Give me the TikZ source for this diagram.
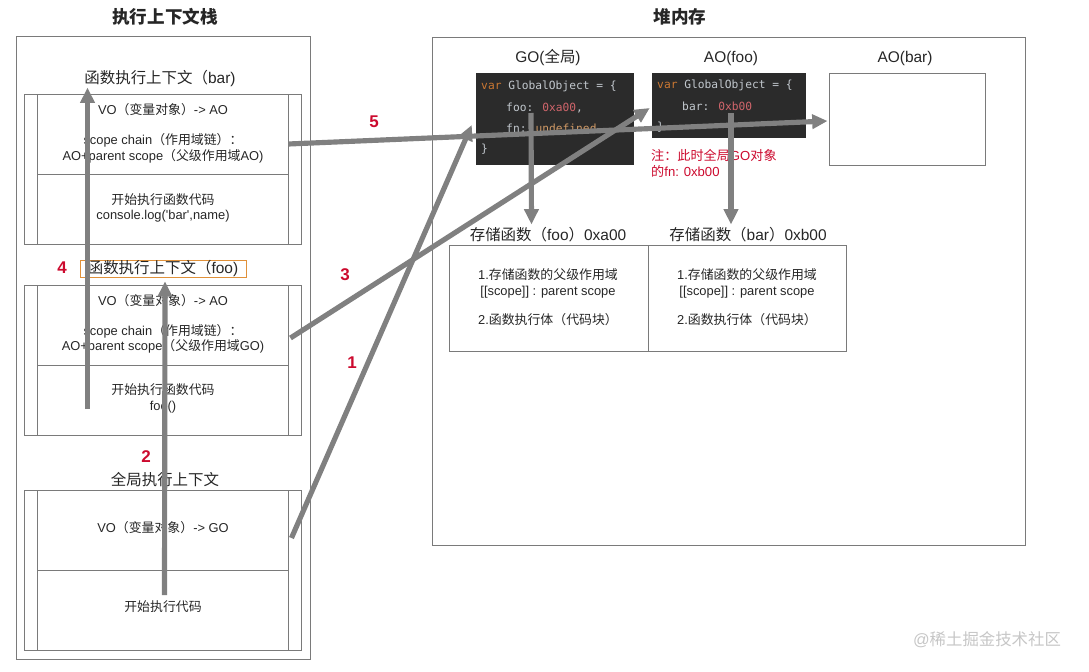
\documentclass[tikz,border=0pt]{standalone}
\usepackage{fontspec}
\setmainfont{Liberation Sans}[Ligatures=TeXOff]
\newfontfamily\cjkfont{Noto Sans CJK SC}
\newfontfamily\codefont{DejaVu Sans Mono}
\newcommand{\zh}[1]{{\cjkfont #1}}
\usepackage{tikz}
\usetikzlibrary{arrows.meta,fit,calc}
\definecolor{boxgray}{HTML}{7A7A7A}
\definecolor{arrgray}{HTML}{808080}
\definecolor{stepred}{HTML}{CC0A2E}
\definecolor{codebg}{HTML}{2B2B2B}
\definecolor{codetxt}{HTML}{C2C8CE}
\definecolor{codekw}{HTML}{CC7832}
\definecolor{codenum}{HTML}{D0656B}
\definecolor{codeval}{HTML}{D19A66}
\definecolor{nameorange}{HTML}{E0913A}
\tikzset{
  frame/.style={draw=boxgray, line width=0.8pt, inner sep=0pt},
  head/.style={font=\fontsize{15}{18}\selectfont\bfseries, text=black!85},
  big/.style={font=\fontsize{13.2}{16}\selectfont, text=black!85},
  small/.style={font=\fontsize{11}{13.2}\selectfont, text=black!85, align=center},
  num/.style={font=\fontsize{14.5}{16}\selectfont\bfseries, text=stepred},
  code/.style={font=\codefont\fontsize{9.6}{12}\selectfont, text=codetxt, anchor=west, inner sep=0pt},
  flow/.style={draw=arrgray, line width=4.4pt, -{Triangle[length=0.46cm,width=0.42cm]}},
}
\begin{document}
\begin{tikzpicture}[x=0.03cm, y=-0.03cm]
\useasboundingbox (0,0) rectangle (1089,672);
%%%%% Titles %%%%%
\node[head] (stacktitle) at (165,17) {\zh{执行上下文栈}};
\node[head] (heaptitle) at (680,17) {\zh{堆内存}};
%%%%% Execution context stack %%%%%
\node[frame, fit={(16,36) (310,659)}] (stack) {};
\foreach \nm/\t/\m/\b in {bar/94/174/244, foo/285/365/435, glob/490/570/650}{
  \node[frame, fit={(24,\t) (301,\b)}] (\nm ctx) {};
  \node[frame, fit={(37,\t) (288,\m)}] (\nm vo) {};
  \node[frame, fit={(37,\m) (288,\b)}] (\nm run) {};
}
\node[big] (barname) at (160,78) {\zh{函数执行上下文（}bar)};
\node[small] (barvotxt) at (163,110) {VO\zh{（变量对象）}-> AO};
\node[small] (barsctxt) at (163,148.5) {scope chain\zh{（作用域链）：}\\AO+parent scope\zh{（父级作用域}AO)};
\node[small] (barruntxt) at (163,208) {\zh{开始执行函数代码}\\console.log('bar',name)};
\node[big, draw=nameorange, line width=0.6pt, inner sep=0pt, minimum width=4.98cm, minimum height=0.51cm] (fooname) at (163,268.5) {\zh{函数执行上下文（}foo)};
\node[small] (foovotxt) at (163,301) {VO\zh{（变量对象）}-> AO};
\node[small] (foosctxt) at (163,339) {scope chain\zh{（作用域链）：}\\AO+parent scope\zh{（父级作用域}GO)};
\node[small] (fooruntxt) at (163,398.5) {\zh{开始执行函数代码}\\foo()};
\node[big] (globname) at (165,480) {\zh{全局执行上下文}};
\node[small] (globvotxt) at (163,528) {VO\zh{（变量对象）}-> GO};
\node[small] (globruntxt) at (163,607) {\zh{开始执行代码}};
%%%%% Heap %%%%%
\node[frame, fit={(432,37) (1025,545)}] (heap) {};
\node[big] (goname) at (548,58) {GO(\zh{全局})};
\node[big] (aofooname) at (731,58) {AO(foo)};
\node[big] (aobarname) at (905,58) {AO(bar)};
\node[fill=codebg, inner sep=0pt, fit={(476,73) (634,165)}] (gocode) {};
\node[code] (go1) at (481,86) {\textcolor{codekw}{var} GlobalObject = \{};
\node[code] (go2) at (506,108) {foo: \textcolor{codenum}{0xa00},};
\node[code] (go3) at (506,128) {fn: \textcolor{codeval}{undefined}};
\node[code] (go4) at (481,149) {\}};
\node[fill=codebg, inner sep=0pt, fit={(652,73) (806,138)}] (aofoo) {};
\node[code] (ao1) at (657,85) {\textcolor{codekw}{var} GlobalObject = \{};
\node[code] (ao2) at (682,106) {bar: \textcolor{codenum}{0xb00}};
\node[code] (ao3) at (657,127) {\}};
\node[frame, fit={(829,73) (985,165)}] (aobar) {};
\node[font=\fontsize{11.2}{13.5}\selectfont, text=stepred, align=left, anchor=north west, inner sep=0pt] (note) at (651,149) {\zh{注：此时全局}GO\zh{对象}\\\zh{的}fn: 0xb00};
\node[big] (foostorename) at (548,235) {\zh{存储函数（}foo\zh{）}0xa00};
\node[big] (barstorename) at (748,235) {\zh{存储函数（}bar\zh{）}0xb00};
\node[frame, fit={(449,245) (648,351)}] (foostore) {};
\node[frame, fit={(648,245) (846,351)}] (barstore) {};
\foreach \nm/\x in {foo/548, bar/747}{
  \node[small] (\nm storetxt) at (\x,283.5) {1.\zh{存储函数的父级作用域}\\{[[scope]]} : parent scope};
  \node[small] (\nm storebody) at (\x,320) {2.\zh{函数执行体（代码块）}};
}
%%%%% Steps %%%%%
\node[num] (n1) at (352,363) {1};
\node[num] (n2) at (146,457) {2};
\node[num] (n3) at (345,275) {3};
\node[num] (n4) at (62,268) {4};
\node[num] (n5) at (374,122) {5};
\draw[flow] ($(globvo.east)+(3,8)$) -- ($(gocode.west)+(-4,6)$);
\draw[flow] ($(globrun.center)+(2,-15)$) -- ($(fooname.south)+(2,4)$);
\draw[flow] ($(foovo.east)+(2,13)$) -- ($(aofoo.west)+(-2,2.5)$);
\draw[flow] ($(foorun.center)+(-75,9)$) -- ($(barctx.north)+(-75,-6)$);
\draw[flow] ($(barvo.east)+(0,10)$) -- ($(aobar.west)+(-1,2)$);
\draw[flow] ($(gocode.center)+(-24,-6)$) -- ($(foostore.north)+(-17,-20)$);
\draw[flow] ($(aofoo.center)+(2,7.5)$) -- ($(barstore.north)+(-16,-20)$);
%%%%% Watermark %%%%%
\node[font=\fontsize{14}{16}\selectfont, text=gray!45] (mark) at (987,640) {@\zh{稀土掘金技术社区}};
\end{tikzpicture}
\end{document}
